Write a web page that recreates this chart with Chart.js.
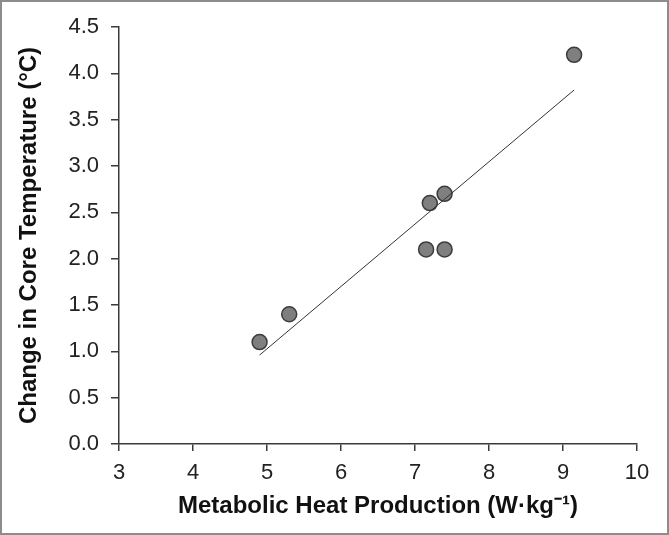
<!DOCTYPE html>
<html>
<head>
<meta charset="utf-8">
<script src="https://cdn.jsdelivr.net/npm/chart.js@4/dist/chart.umd.min.js"></script>
<style>
  html, body { margin: 0; padding: 0; background: #fff; }
  canvas { display: block; }
</style>
</head>
<body>
<canvas id="chart" width="669" height="535"></canvas>
<script>
// measured points (metabolic heat production vs change in core temp)
const heatProduction = [4.9, 5.3, 7.15, 7.4, 7.2, 7.4, 9.15];
const tempChange = [1.1, 1.4, 2.1, 2.1, 2.6, 2.7, 4.2];

// trend line ends
const trendX = [4.9, 9.15];
const trendY = [0.96, 3.82];

const xTicks = [3, 4, 5, 6, 7, 8, 9, 10];
const yTicks = [0, 0.5, 1, 1.5, 2, 2.5, 3, 3.5, 4, 4.5];

const points = heatProduction.map((x, i) => ({ x: x, y: tempChange[i] }));
const trend = trendX.map((x, i) => ({ x: x, y: trendY[i] }));

// grey frame round the whole picture
const framePlugin = {
    id: 'frame',
    afterDraw(chart) {
        const ctx = chart.ctx;
        ctx.save();
        ctx.strokeStyle = '#8c8c8c';
        ctx.lineWidth = 2;
        ctx.strokeRect(1, 1, chart.width - 2, chart.height - 2);
        ctx.restore();
    }
};

const axisColor = '#3a3a3a';
const fontFamily = 'Liberation Sans, Arial';

new Chart(document.getElementById('chart').getContext('2d'), {
    type: 'scatter',
    data: {
        datasets: [
            {
                label: 'trend',
                data: trend,
                showLine: true,
                borderColor: '#333',
                borderWidth: 1,
                pointRadius: 0,
                fill: false
            },
            {
                label: 'data',
                data: points,
                pointRadius: 7.5,
                pointBackgroundColor: '#7f7f7f',
                pointBorderColor: '#3c3c3c',
                pointBorderWidth: 1.5
            }
        ]
    },
    options: {
        responsive: false,
        animation: false,
        layout: { padding: { top: 27, right: 32, left: 15, bottom: 14 } },
        plugins: {
            legend: { display: false },
            tooltip: { enabled: false }
        },
        scales: {
            x: {
                type: 'linear',
                min: 3,
                max: 10,
                afterBuildTicks: (axis) => { axis.ticks = xTicks.map(v => ({ value: v })); },
                afterFit: (axis) => { axis.height = 77; },
                grid: { drawOnChartArea: false, drawTicks: true, tickLength: 7, color: axisColor, lineWidth: 1.5 },
                border: { display: true, color: axisColor, width: 1.5 },
                ticks: {
                    color: '#222',
                    font: { family: fontFamily, size: 22 },
                    padding: 9,
                    maxRotation: 0
                },
                title: {
                    display: true,
                    text: 'Metabolic Heat Production (W\u00B7kg\u207B\u00B9)',
                    color: '#111',
                    font: { family: fontFamily, size: 24, weight: 'bold' },
                    padding: { top: 4, bottom: 0 }
                }
            },
            y: {
                type: 'linear',
                min: 0,
                max: 4.5,
                afterBuildTicks: (axis) => { axis.ticks = yTicks.map(v => ({ value: v })); },
                afterFit: (axis) => { axis.width = 104; },
                grid: { drawOnChartArea: false, drawTicks: true, tickLength: 8, color: axisColor, lineWidth: 1.5 },
                border: { display: true, color: axisColor, width: 1.5 },
                ticks: {
                    color: '#222',
                    font: { family: fontFamily, size: 22 },
                    padding: 12,
                    callback: (v) => v.toFixed(1)
                },
                title: {
                    display: true,
                    text: 'Change in Core Temperature (\u00B0C)',
                    color: '#111',
                    font: { family: fontFamily, size: 24, weight: 'bold' },
                    padding: { top: 0, bottom: 0 }
                }
            }
        }
    },
    plugins: [framePlugin]
});
</script>
</body>
</html>
